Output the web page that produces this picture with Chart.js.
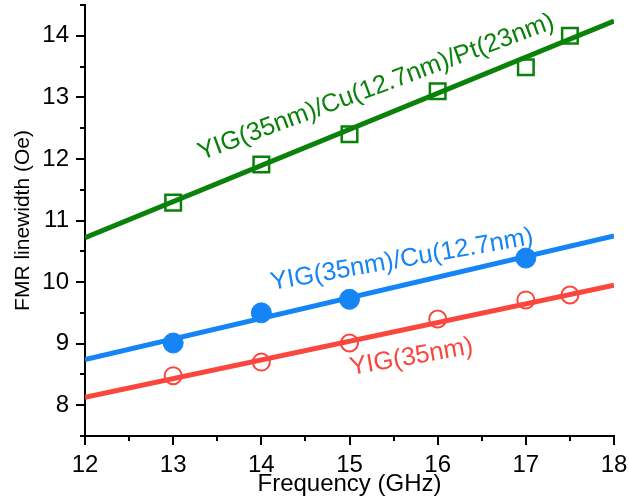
<!DOCTYPE html>
<html>
<head>
<meta charset="utf-8">
<script src="https://cdn.jsdelivr.net/npm/chart.js@4.4.1/dist/chart.umd.min.js"></script>
<style>
html,body{margin:0;padding:0;background:#fff;}
#wrap{width:629px;height:502px;position:relative;}
</style>
</head>
<body>
<div id="wrap"><canvas id="c" width="629" height="502"></canvas></div>
<script>
// ---- data ----
const ptFreq = [13, 14, 15, 16, 17, 17.5];
const ptFreqCu = [13, 14, 15, 17];
const ptPt = [11.29, 11.91, 12.40, 13.10, 13.49, 14.0];
const ptCu = [9.01, 9.50, 9.72, 10.39];
const ptYIG = [8.48, 8.70, 9.01, 9.40, 9.71, 9.79];
const fitFreq = [12, 18];
const fitPt = [10.72, 14.24];
const fitCu = [8.74, 10.75];
const fitYIG = [8.13, 9.95];
const xTicks = [12, 13, 14, 15, 16, 17, 18];
const yTicks = [8, 9, 10, 11, 12, 13, 14];
const labelPt = 'YIG(35nm)/Cu(12.7nm)/Pt(23nm)';
const labelCu = 'YIG(35nm)/Cu(12.7nm)';
const labelYIG = 'YIG(35nm)';

const GREEN = '#0a820a', BLUE = '#1584f5', RED = '#fb463e';
const FONT = "'Liberation Sans', Arial, sans-serif";

function pts(xs, ys){ return xs.map((x,i)=>({x:x, y:ys[i]})); }

const seriesLabels = [
  {text: labelPt, x: 13.32, y: 11.98, angle: -20.5, color: GREEN},
  {text: labelCu, x: 14.12, y: 9.87, angle: -10, color: BLUE},
  {text: labelYIG, x: 15.02, y: 8.49, angle: -10, color: RED}
];

const decor = {
  id: 'decor',
  afterDraw(chart){
    const ctx = chart.ctx, xs = chart.scales.x, ys = chart.scales.y;
    const ca = chart.chartArea;
    ctx.save();
    ctx.strokeStyle = '#000'; ctx.lineWidth = 2;
    for (let v = xs.min; v <= xs.max + 1e-9; v += 0.5){
      const px = Math.round(xs.getPixelForValue(v));
      const major = Math.abs(v - Math.round(v)) < 1e-9;
      ctx.beginPath(); ctx.moveTo(px, ca.bottom); ctx.lineTo(px, ca.bottom + (major ? 9 : 5)); ctx.stroke();
    }
    for (let v = ys.min; v <= ys.max + 1e-9; v += 0.5){
      const py = Math.round(ys.getPixelForValue(v));
      const major = Math.abs(v - Math.round(v)) < 1e-9;
      ctx.beginPath(); ctx.moveTo(ca.left, py); ctx.lineTo(ca.left - (major ? 9 : 5), py); ctx.stroke();
    }
    ctx.font = '25.5px ' + FONT;
    ctx.textBaseline = 'alphabetic'; ctx.textAlign = 'left';
    seriesLabels.forEach(l => {
      ctx.save();
      ctx.translate(xs.getPixelForValue(l.x), ys.getPixelForValue(l.y));
      ctx.rotate(l.angle * Math.PI / 180);
      ctx.fillStyle = l.color;
      ctx.fillText(l.text, 0, 0);
      ctx.restore();
    });
    ctx.restore();
  }
};

function noPad(s){ s.paddingTop = 0; s.paddingBottom = 0; s.paddingLeft = 0; s.paddingRight = 0; }

new Chart(document.getElementById('c'), {
  type: 'scatter',
  data: {
    datasets: [
      {data: pts(ptFreqCu, ptCu), pointStyle: 'circle', pointRadius: 10, pointBackgroundColor: BLUE, pointBorderColor: BLUE, pointBorderWidth: 1, showLine: false},
      {data: pts(ptFreq, ptPt), pointStyle: 'rect', pointRadius: 11, pointBackgroundColor: 'rgba(0,0,0,0)', pointBorderColor: GREEN, pointBorderWidth: 2.5, showLine: false},
      {data: pts(ptFreq, ptYIG), pointStyle: 'circle', pointRadius: 8.5, pointBackgroundColor: 'rgba(0,0,0,0)', pointBorderColor: RED, pointBorderWidth: 2, showLine: false},
      {data: pts(fitFreq, fitPt), showLine: true, borderColor: GREEN, borderWidth: 5, pointRadius: 0},
      {data: pts(fitFreq, fitCu), showLine: true, borderColor: BLUE, borderWidth: 5, pointRadius: 0},
      {data: pts(fitFreq, fitYIG), showLine: true, borderColor: RED, borderWidth: 5, pointRadius: 0}
    ]
  },
  options: {
    responsive: false,
    animation: false,
    layout: {autoPadding: false, padding: {left: 0, right: 15, top: 5, bottom: 0}},
    plugins: {legend: {display: false}, tooltip: {enabled: false}},
    scales: {
      x: {
        type: 'linear', min: 12, max: 18,
        afterBuildTicks: s => { s.ticks = xTicks.map(v => ({value: v})); },
        afterFit: s => { s.height = 66; noPad(s); },
        grid: {display: false},
        border: {display: true, color: '#000', width: 2},
        ticks: {color: '#000', font: {family: FONT, size: 24}, padding: 7, maxRotation: 0, callback: v => String(v)},
        title: {display: true, text: 'Frequency (GHz)', color: '#000', font: {family: FONT, size: 24}, padding: {top: 0, bottom: 3}}
      },
      y: {
        type: 'linear', min: 7.5, max: 14.5,
        afterBuildTicks: s => { s.ticks = yTicks.map(v => ({value: v})); },
        afterFit: s => { s.width = 85; noPad(s); },
        grid: {display: false},
        border: {display: true, color: '#000', width: 2},
        ticks: {color: '#000', font: {family: FONT, size: 24}, padding: 8, callback: v => String(v)},
        title: {display: true, text: 'FMR linewidth (Oe)', color: '#000', font: {family: FONT, size: 21}, padding: {top: 11, bottom: 0}}
      }
    }
  },
  plugins: [decor]
});
</script>
</body>
</html>
